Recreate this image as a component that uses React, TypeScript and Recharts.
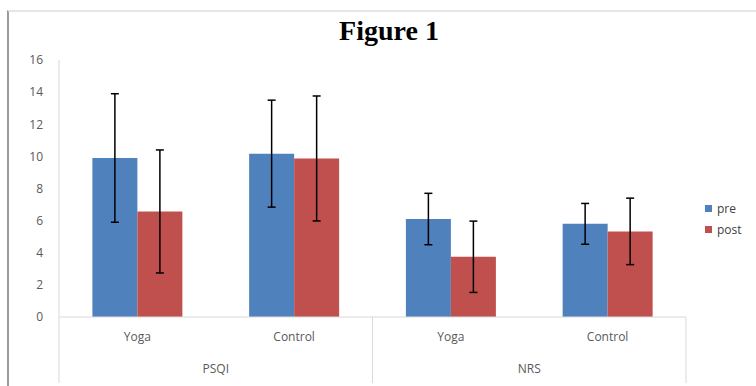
import React from 'react';
import { BarChart, Bar, XAxis, YAxis, ErrorBar } from 'recharts';

const categories = ['Yoga', 'Control', 'Yoga', 'Control'];
const groups = ['PSQI', 'PSQI', 'NRS', 'NRS'];
const preValues = [9.9, 10.17, 6.1, 5.8];
const preErrors = [4.0, 3.33, 1.6, 1.27];
const postValues = [6.57, 9.87, 3.75, 5.33];
const postErrors = [3.83, 3.89, 2.22, 2.07];
const yTicks = [0, 2, 4, 6, 8, 10, 12, 14, 16];
const seriesNames = ['pre', 'post'];

const data = categories.map((name, i) => ({
  key: `${groups[i]}-${name}`,
  name,
  group: groups[i],
  pre: preValues[i],
  preErr: preErrors[i],
  post: postValues[i],
  postErr: postErrors[i],
}));

const W = 756;
const H = 386;
const PLOT_LEFT = 59;
const PLOT_RIGHT = 686;
const PLOT_TOP = 60;
const CAT_AXIS_H = 32;
const GROUP_AXIS_H = 37;
const PLOT_BOTTOM = H - CAT_AXIS_H - GROUP_AXIS_H;
const BLUE = '#4F81BD';
const RED = '#C0504D';
const AXIS_COLOR = '#D9D9D9';
const LABEL_FONT = '"Open Sans", Lato, sans-serif';
const LABEL_COLOR = '#595959';

const CategoryTick = (props: any) => {
  const { x, y, index } = props;
  const label = data[index] ? data[index].name : props.payload.value;
  return (
    <text x={x} y={y + 24} textAnchor="middle" fontFamily={LABEL_FONT} fontSize={12} fill={LABEL_COLOR}>
      {label}
    </text>
  );
};

const GroupTick = (props: any) => {
  const { x, y, payload } = props;
  const half = payload && payload.offset ? payload.offset : (PLOT_RIGHT - PLOT_LEFT) / 4;
  const top = PLOT_BOTTOM;
  const bottom = H - 3;
  return (
    <g>
      <line x1={x - half} x2={x - half} y1={top} y2={bottom} stroke={AXIS_COLOR} strokeWidth={1} />
      <line x1={x + half} x2={x + half} y1={top} y2={bottom} stroke={AXIS_COLOR} strokeWidth={1} />
      <text x={x} y={y + 24} textAnchor="middle" fontFamily={LABEL_FONT} fontSize={12} fill={LABEL_COLOR}>
        {payload.value}
      </text>
    </g>
  );
};

export default function App() {
  return (
    <div style={{ position: 'absolute', left: 0, top: 0, width: W, height: H, background: '#fff', overflow: 'hidden' }}>
      <div style={{ position: 'absolute', left: 7, top: 10, width: W - 7, height: H - 10, borderTop: '2px solid #E6E6E6', borderLeft: '2px solid #9A9A9A' }} />
      <div style={{ position: 'absolute', left: 0, width: W, top: 15, textAlign: 'center', fontFamily: '"Liberation Serif", "Times New Roman", serif', fontWeight: 'bold', fontSize: 28, color: '#000', paddingLeft: 22, boxSizing: 'border-box' }}>
        Figure 1
      </div>
      <div style={{ position: 'absolute', left: 0, top: 0 }}>
        <BarChart
          width={W}
          height={H}
          data={data}
          margin={{ top: PLOT_TOP, right: W - PLOT_RIGHT, bottom: 0, left: 19 }}
          barCategoryGap="21.3%"
          barGap={0}
        >
          <XAxis
            xAxisId="cat"
            dataKey="key"
            height={CAT_AXIS_H}
            interval={0}
            tickLine={false}
            tickSize={0}
            tickMargin={0}
            axisLine={{ stroke: AXIS_COLOR }}
            tick={<CategoryTick />}
          />
          <XAxis
            xAxisId="grp"
            dataKey="group"
            allowDuplicatedCategory={false}
            height={GROUP_AXIS_H}
            interval={0}
            tickLine={false}
            tickSize={0}
            tickMargin={0}
            axisLine={false}
            tick={<GroupTick />}
          />
          <YAxis
            width={PLOT_LEFT - 19}
            domain={[0, 16]}
            ticks={yTicks}
            interval={0}
            tickLine={false}
            tickSize={14}
            tickMargin={2}
            axisLine={{ stroke: AXIS_COLOR }}
            tick={{ fontFamily: LABEL_FONT, fontSize: 12, fill: LABEL_COLOR }}
          />
          <Bar xAxisId="cat" dataKey="pre" name="pre" fill={BLUE} isAnimationActive={false}>
            <ErrorBar dataKey="preErr" width={4} stroke="#000" strokeWidth={1.5} direction="y" />
          </Bar>
          <Bar xAxisId="cat" dataKey="post" name="post" fill={RED} isAnimationActive={false}>
            <ErrorBar dataKey="postErr" width={4} stroke="#000" strokeWidth={1.5} direction="y" />
          </Bar>
        </BarChart>
      </div>
      <div style={{ position: 'absolute', left: 705, top: 198, fontFamily: LABEL_FONT, fontSize: 12, color: '#404040' }}>
        {seriesNames.map((n, i) => (
          <div key={n} style={{ display: 'flex', alignItems: 'center', height: 21 }}>
            <span style={{ display: 'inline-block', width: 7, height: 7, background: i === 0 ? BLUE : RED, marginRight: 5 }} />
            <span>{n}</span>
          </div>
        ))}
      </div>
    </div>
  );
}
